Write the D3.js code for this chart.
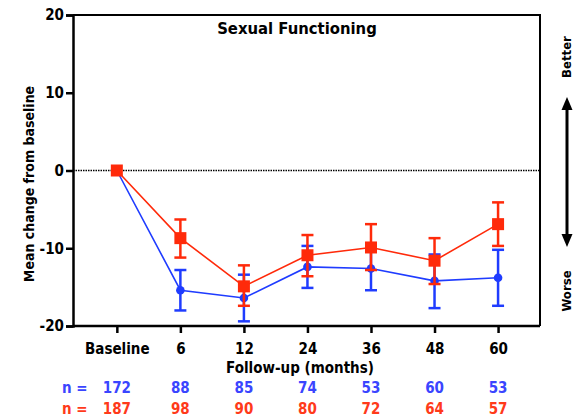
<!DOCTYPE html>
<html>
<head>
<meta charset="utf-8">
<script src="https://cdn.jsdelivr.net/npm/d3@7/dist/d3.min.js"></script>
<style>
  html, body { margin: 0; padding: 0; background: #fff; }
  svg text { font-family: "DejaVu Sans Condensed", "DejaVu Sans", sans-serif; font-weight: bold; }
</style>
</head>
<body>
<svg id="chart" width="573" height="417"></svg>
<script>
// Follow-up time points
const categories = ["Baseline", "6", "12", "24", "36", "48", "60"];

// Blue group (circles): mean change and error-bar limits
const blueMean  = [0, -15.4, -16.4, -12.4, -12.6, -14.2, -13.8];
const blueLower = [0, -18.0, -19.4, -15.1, -15.4, -17.7, -17.4];
const blueUpper = [0, -12.8, -13.4,  -9.7,  -9.8, -10.8, -10.2];

// Red group (squares): mean change and error-bar limits
const redMean  = [0,  -8.7, -14.9, -10.9,  -9.9, -11.6,  -6.9];
const redLower = [0, -11.2, -17.4, -13.6, -12.8, -14.6,  -9.7];
const redUpper = [0,  -6.3, -12.2,  -8.3,  -6.9,  -8.7,  -4.1];

// Patients at each time point
const blueN = [172, 88, 85, 74, 53, 60, 53];
const redN  = [187, 98, 90, 80, 72, 64, 57];

const yTicks = [20, 10, 0, -10, -20];

const BLUE = "#1f3cff", RED = "#ff2a0a";
const BLUE_TXT = "#3a45ff", RED_TXT = "#ff3a1a";

const svg = d3.select("#chart");
const plotL = 73, plotR = 540, plotT = 15, plotB = 326;

const x = d3.scaleLinear().domain([-0.69, 6.66]).range([plotL, plotR]);
const y = d3.scaleLinear().domain([-20, 20]).range([plotB, plotT]);

// Frame (top and right edges)
svg.append("path")
  .attr("d", `M${plotL},${plotT}H${plotR}V${plotB}`)
  .attr("fill", "none").attr("stroke", "#000").attr("stroke-width", 2);

// Zero reference line
svg.append("line")
  .attr("x1", plotL).attr("x2", plotR).attr("y1", y(0)).attr("y2", y(0))
  .attr("stroke", "#000").attr("stroke-width", 1.5).attr("stroke-dasharray", "1.5,1");

// Y axis
const yAxis = svg.append("g").attr("transform", `translate(${plotL},0)`)
  .call(d3.axisLeft(y).tickValues(yTicks).tickSize(7).tickPadding(2).tickFormat(d => String(d)));
yAxis.select(".domain").attr("stroke-width", 2.5);
yAxis.selectAll(".tick line").attr("stroke-width", 2.5);
yAxis.selectAll(".tick text").attr("font-size", 15).attr("fill", "#000");

// X axis
const xAxis = svg.append("g").attr("transform", `translate(0,${plotB})`)
  .call(d3.axisBottom(x).tickValues(d3.range(categories.length)).tickSize(7).tickPadding(10)
    .tickFormat(i => categories[i]));
xAxis.select(".domain").attr("stroke-width", 2.5)
  .attr("d", `M${plotL},0H${plotR}`);
xAxis.selectAll(".tick line").attr("stroke-width", 2.5);
xAxis.selectAll(".tick text").attr("font-size", 15).attr("fill", "#000");

// Series
function drawSeries(mean, lower, upper, color, shape) {
  const g = svg.append("g");
  g.append("path")
    .datum(mean)
    .attr("fill", "none").attr("stroke", color).attr("stroke-width", 1.6)
    .attr("d", d3.line().x((d, i) => x(i)).y(d => y(d)));
  const bars = g.selectAll(".err").data(mean.map((m, i) => i).filter(i => lower[i] !== upper[i]))
    .enter().append("g").attr("stroke", color).attr("stroke-width", 2.5);
  bars.append("line").attr("x1", i => x(i)).attr("x2", i => x(i))
    .attr("y1", i => y(upper[i])).attr("y2", i => y(lower[i]));
  bars.append("line").attr("x1", i => x(i) - 6).attr("x2", i => x(i) + 6)
    .attr("y1", i => y(upper[i])).attr("y2", i => y(upper[i]));
  bars.append("line").attr("x1", i => x(i) - 6).attr("x2", i => x(i) + 6)
    .attr("y1", i => y(lower[i])).attr("y2", i => y(lower[i]));
  if (shape === "circle") {
    g.selectAll(".pt").data(mean).enter().append("circle")
      .attr("cx", (d, i) => x(i)).attr("cy", d => y(d)).attr("r", 4.3).attr("fill", color);
  } else {
    g.selectAll(".pt").data(mean).enter().append("rect")
      .attr("x", (d, i) => x(i) - 6).attr("y", d => y(d) - 6)
      .attr("width", 12).attr("height", 12).attr("fill", color);
  }
}
drawSeries(blueMean, blueLower, blueUpper, BLUE, "circle");
drawSeries(redMean, redLower, redUpper, RED, "square");

// Title
svg.append("text").attr("x", 297).attr("y", 34).attr("text-anchor", "middle")
  .attr("font-size", 16.5).text("Sexual Functioning");

// Axis titles
svg.append("text").attr("transform", "translate(34,184) rotate(-90)")
  .attr("text-anchor", "middle").attr("font-size", 14).text("Mean change from baseline");
svg.append("text").attr("x", 300).attr("y", 373).attr("text-anchor", "middle")
  .attr("font-size", 15).text("Follow-up (months)");

// Better / Worse indicator
svg.append("text").attr("transform", "translate(571,57) rotate(-90)")
  .attr("text-anchor", "middle").attr("font-size", 13).text("Better");
svg.append("text").attr("transform", "translate(571,291) rotate(-90)")
  .attr("text-anchor", "middle").attr("font-size", 13).text("Worse");
const ax = 567, aTop = 97, aBot = 247;
svg.append("line").attr("x1", ax).attr("x2", ax).attr("y1", aTop + 8).attr("y2", aBot - 8)
  .attr("stroke", "#000").attr("stroke-width", 3);
svg.append("path").attr("d", `M${ax},${aTop}l-5.5,13h11z`).attr("fill", "#000");
svg.append("path").attr("d", `M${ax},${aBot}l-5.5,-13h11z`).attr("fill", "#000");

// Patient counts
function countRow(vals, color, yy) {
  svg.append("text").attr("x", 62).attr("y", yy).attr("font-size", 15).attr("fill", color).text("n =");
  svg.selectAll(null).data(vals).enter().append("text")
    .attr("x", (d, i) => x(i)).attr("y", yy).attr("text-anchor", "middle")
    .attr("font-size", 15).attr("fill", color).text(d => d);
}
countRow(blueN, BLUE_TXT, 393);
countRow(redN, RED_TXT, 414);
</script>
</body>
</html>
